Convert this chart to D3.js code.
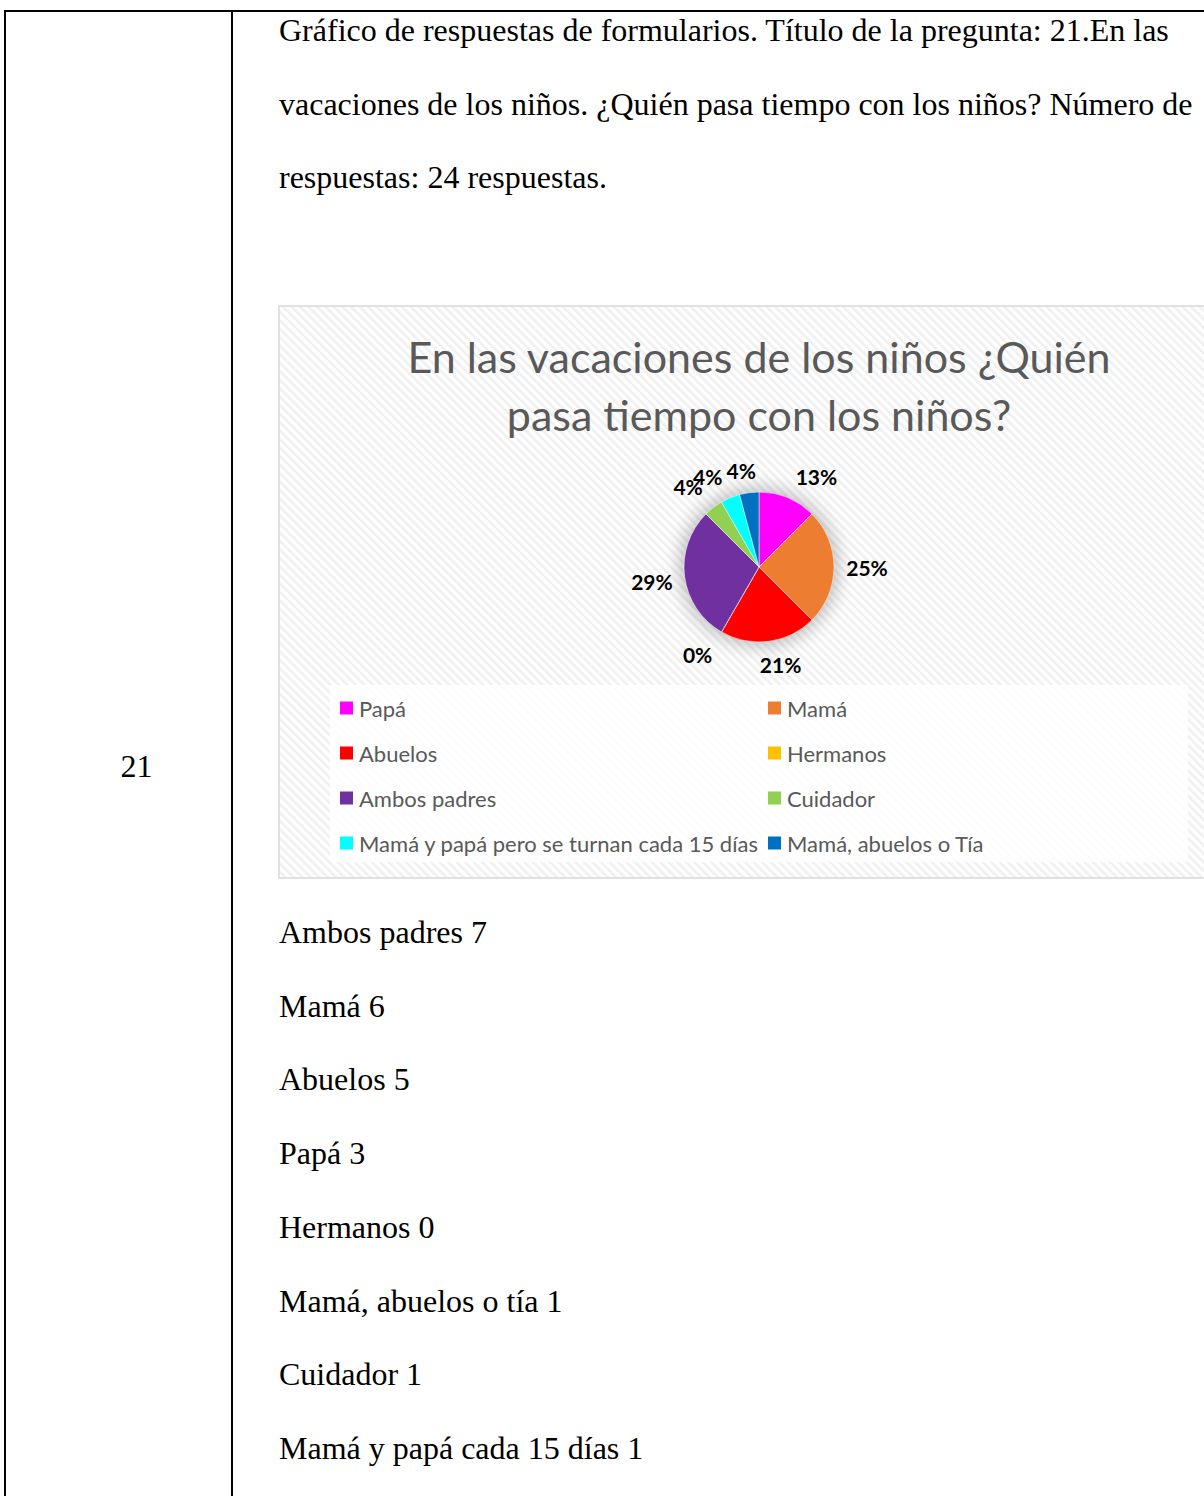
<!DOCTYPE html>
<html>
<head>
<meta charset="utf-8">
<script src="https://cdn.jsdelivr.net/npm/d3@7"></script>
<style>
  body { margin: 0; background: #fff; }
  svg { display: block; }
</style>
</head>
<body>
<script>
// --- data ---
const categories = ["Papá", "Mamá", "Abuelos", "Hermanos", "Ambos padres", "Cuidador",
  "Mamá y papá pero se turnan cada 15 días", "Mamá, abuelos o Tía"];
const counts = [3, 6, 5, 0, 7, 1, 1, 1];
const sliceColors = ["#FF00FF", "#ED7D31", "#FF0000", "#FFC000", "#7030A0", "#92D050", "#00FFFF", "#0070C0"];

const chartTitle = ["En las vacaciones de los niños ¿Quién", "pasa tiempo con los niños?"];
const introLines = [
  "Gráfico de respuestas de formularios. Título de la pregunta: 21.En las",
  "vacaciones de los niños. ¿Quién pasa tiempo con los niños? Número de",
  "respuestas: 24 respuestas."
];
const rowNumber = "21";
const listLabels = ["Ambos padres", "Mamá", "Abuelos", "Papá", "Hermanos", "Mamá, abuelos o tía", "Cuidador", "Mamá y papá cada 15 días"];
const listCounts = [7, 6, 5, 3, 0, 1, 1, 1];

// label placement tweaks (degrees / px), like excel's outside-end nudging
const labelShift = [10, 0, -5, 5, 0, -4, -7, -3];
const labelRad = [107, 108, 100, 107, 108, 107, 104, 98];

const W = 1204, H = 1496;
const svg = d3.select("body").append("svg").attr("width", W).attr("height", H);

const defs = svg.append("defs");
const pat = defs.append("pattern")
  .attr("id", "hatch").attr("patternUnits", "userSpaceOnUse")
  .attr("width", 6).attr("height", 6)
  .attr("patternTransform", "rotate(-45)");
pat.append("rect").attr("width", 6).attr("height", 6).attr("fill", "#fff");
pat.append("rect").attr("width", 2.6).attr("height", 6).attr("fill", "#f0f0f0");

const blur = defs.append("filter").attr("id", "glow")
  .attr("x", "-50%").attr("y", "-50%").attr("width", "200%").attr("height", "200%");
blur.append("feGaussianBlur").attr("stdDeviation", 9);

// table lines
svg.append("line").attr("x1", 4).attr("x2", W).attr("y1", 11).attr("y2", 11).attr("stroke", "#000").attr("stroke-width", 2);
svg.append("line").attr("x1", 5).attr("x2", 5).attr("y1", 10).attr("y2", H).attr("stroke", "#000").attr("stroke-width", 2);
svg.append("line").attr("x1", 232).attr("x2", 232).attr("y1", 10).attr("y2", H).attr("stroke", "#000").attr("stroke-width", 2);

const serif = "'Liberation Serif', 'Times New Roman', serif";

svg.append("text").attr("x", 136.5).attr("y", 777).attr("text-anchor", "middle")
  .attr("font-family", serif).attr("font-size", 32).text(rowNumber);

svg.selectAll("text.intro").data(introLines).enter().append("text")
  .attr("class", "intro")
  .attr("x", 279).attr("y", (d, i) => 41 + i * 73.6)
  .attr("font-family", serif).attr("font-size", 32).text(d => d);

svg.selectAll("text.list").data(listLabels).enter().append("text")
  .attr("class", "list")
  .attr("x", 279).attr("y", (d, i) => 943 + i * 73.7)
  .attr("font-family", serif).attr("font-size", 32)
  .text((d, i) => d + " " + listCounts[i]);

// chart box
const chart = svg.append("g");
chart.append("rect").attr("x", 279).attr("y", 306).attr("width", 960).attr("height", 572)
  .attr("fill", "url(#hatch)").attr("stroke", "#d9d9d9").attr("stroke-width", 1.5);

const sans = "Lato, 'Open Sans', sans-serif";
chart.selectAll("text.title").data(chartTitle).enter().append("text")
  .attr("class", "title")
  .attr("x", 759).attr("y", (d, i) => 373 + i * 58)
  .attr("text-anchor", "middle")
  .attr("font-family", sans).attr("font-size", 43).attr("fill", "#595959")
  .text(d => d);

// pie
const cx = 759, cy = 567, r = 75;
const total = d3.sum(counts);
const pct = d3.format(".0%");
const pie = d3.pie().sort(null).value(d => d)(counts);
const arc = d3.arc().innerRadius(0).outerRadius(r);

const pg = chart.append("g").attr("transform", `translate(${cx},${cy})`);
pg.append("circle").attr("r", r + 4).attr("fill", "#000").attr("opacity", 0.25).attr("filter", "url(#glow)");
pg.selectAll("path").data(pie).enter().append("path")
  .attr("d", arc).attr("fill", (d, i) => sliceColors[i])
  .attr("stroke", "#fff").attr("stroke-width", 0.5);

pg.selectAll("text.lbl").data(pie).enter().append("text")
  .attr("class", "lbl")
  .attr("x", (d, i) => {
    const a = (d.startAngle + d.endAngle) / 2 + labelShift[i] * Math.PI / 180;
    return Math.sin(a) * labelRad[i];
  })
  .attr("y", (d, i) => {
    const a = (d.startAngle + d.endAngle) / 2 + labelShift[i] * Math.PI / 180;
    return -Math.cos(a) * labelRad[i];
  })
  .attr("text-anchor", "middle").attr("dominant-baseline", "central")
  .attr("font-family", sans).attr("font-size", 21).attr("font-weight", "bold").attr("fill", "#000")
  .text(d => pct(d.data / total));

// legend
const leg = chart.append("g");
leg.append("rect").attr("x", 330).attr("y", 685).attr("width", 858).attr("height", 177)
  .attr("fill", "#fff").attr("opacity", 0.85);
const items = leg.selectAll("g.item").data(categories).enter().append("g")
  .attr("class", "item")
  .attr("transform", (d, i) => `translate(${i % 2 === 0 ? 340 : 768},${708 + Math.floor(i / 2) * 45})`);
items.append("rect").attr("x", 0).attr("y", -6.5).attr("width", 13).attr("height", 13)
  .attr("fill", (d, i) => sliceColors[i]);
items.append("text").attr("x", 19).attr("y", 0).attr("dominant-baseline", "central")
  .attr("font-family", sans).attr("font-size", 22).attr("fill", "#595959")
  .text(d => d);
</script>
</body>
</html>
